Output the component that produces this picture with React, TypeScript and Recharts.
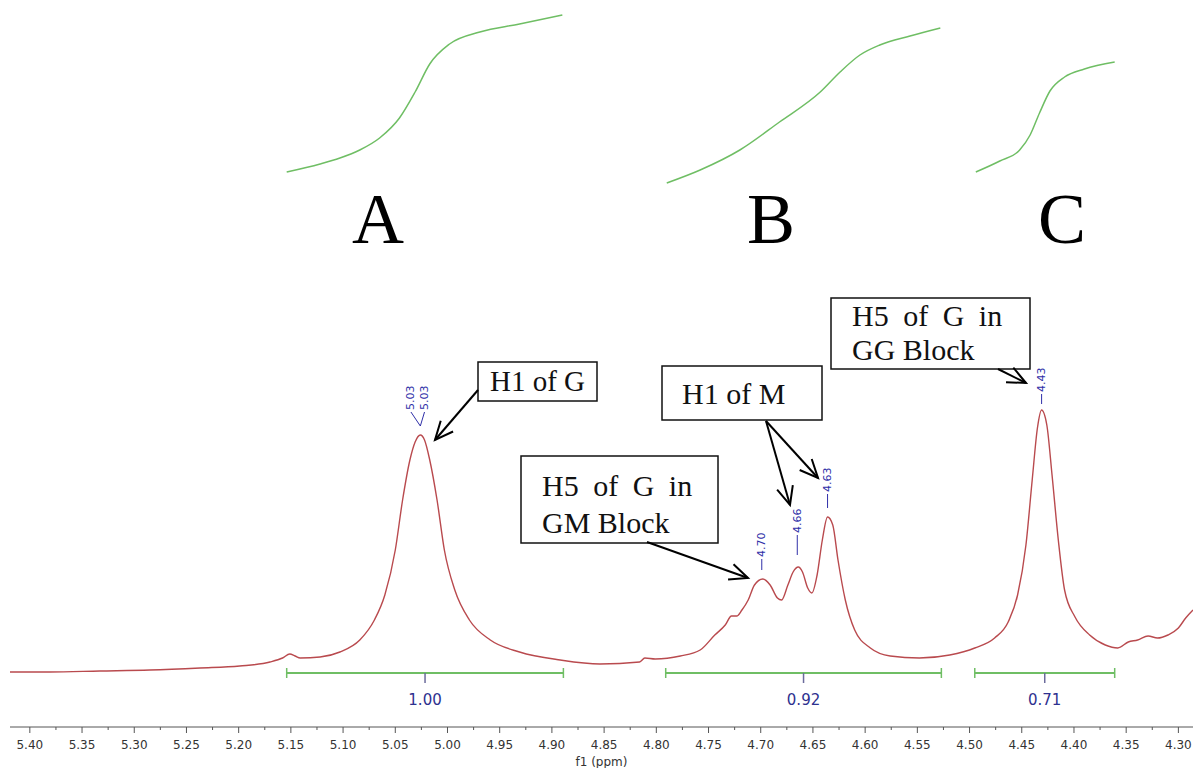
import React from 'react'
import {
  ComposedChart,
  Line,
  Scatter,
  XAxis,
  YAxis,
  ReferenceLine,
} from 'recharts'

// 1H NMR spectrum, f1 in ppm, intensity in arbitrary units (baseline = 0)
const SPEC_PPM = [
  5.419, 5.381, 5.333, 5.285, 5.237, 5.199, 5.170, 5.158, 5.151, 5.146, 5.141, 5.122,
  5.103, 5.084, 5.070, 5.060, 5.050, 5.043, 5.036, 5.031, 5.026, 5.022, 5.017, 5.010,
  5.003, 4.993, 4.979, 4.959, 4.931, 4.892, 4.854, 4.816, 4.811, 4.801, 4.777, 4.758,
  4.744, 4.734, 4.728, 4.723, 4.718, 4.712, 4.706, 4.698, 4.691, 4.684, 4.680, 4.674,
  4.669, 4.664, 4.660, 4.655, 4.651, 4.646, 4.641, 4.636, 4.631, 4.626, 4.619, 4.610,
  4.595, 4.576, 4.548, 4.519, 4.495, 4.476, 4.463, 4.454, 4.446, 4.440, 4.435, 4.431,
  4.426, 4.421, 4.415, 4.409, 4.399, 4.385, 4.370, 4.358, 4.348, 4.339, 4.329, 4.320,
  4.310, 4.300, 4.293, 4.286,
]
const SPEC_INT = [
  0, 0, 1, 2, 4, 6, 10, 14, 18, 16, 14, 15,
  20, 32, 52, 77, 122, 172, 212, 230, 237, 232, 212, 172,
  122, 82, 52, 32, 20, 12, 8, 10, 14, 13, 16, 22,
  37, 47, 56, 56, 62, 72, 87, 93, 87, 74, 72, 87,
  100, 105, 100, 84, 79, 97, 132, 155, 147, 112, 72, 42,
  24, 16, 14, 17, 24, 34, 50, 77, 127, 192, 244, 262,
  247, 197, 132, 82, 55, 37, 27, 24, 30, 32, 36, 34,
  37, 44, 54, 62,
]

// integral curves (drawn above the spectrum)
const INT_A_PPM = [5.154, 5.122, 5.103, 5.084, 5.065, 5.046, 5.031, 5.017, 4.998, 4.969, 4.931, 4.890]
const INT_A_VAL = [500, 508, 514, 522, 534, 554, 580, 608, 628, 640, 648, 657]
const INT_B_PPM = [4.790, 4.758, 4.720, 4.682, 4.643, 4.624, 4.605, 4.586, 4.557, 4.528]
const INT_B_VAL = [489, 502, 522, 550, 580, 600, 617, 627, 636, 644]
const INT_C_PPM = [4.494, 4.471, 4.452, 4.442, 4.433, 4.423, 4.409, 4.390, 4.361]
const INT_C_VAL = [500, 511, 522, 537, 559, 581, 595, 603, 610]

// integration ranges and values
const RANGE_FROM = [5.154, 4.791, 4.495]
const RANGE_TO = [4.889, 4.527, 4.361]
const RANGE_VALUES = ['1.00', '0.92', '0.71']

// peak picking labels
const PEAK_LABELS = ['5.03', '5.03', '4.70', '4.66', '4.63', '4.43']
const PEAK_LABEL_PPM = [5.035, 5.022, 4.699, 4.665, 4.636, 4.431]
const PEAK_LABEL_BASE = [262, 262, 115, 139, 180, 280]
const PEAK_TIP_PPM = [5.026, 5.026, 4.699, 4.665, 4.636, 4.431]
const PEAK_TIP = [246, 246, 102, 117, 164, 268]

const MAJOR_TICKS = [
  5.4, 5.35, 5.3, 5.25, 5.2, 5.15, 5.1, 5.05, 5.0, 4.95, 4.9, 4.85,
  4.8, 4.75, 4.7, 4.65, 4.6, 4.55, 4.5, 4.45, 4.4, 4.35, 4.3,
]

const X_DOMAIN: [number, number] = [4.286, 5.419]
const Y_DOMAIN: [number, number] = [-55, 672]

const spectrum = SPEC_PPM.map((ppm, i) => ({ ppm, h: SPEC_INT[i] }))
const toSeries = (xs: number[], ys: number[]) => xs.map((ppm, i) => ({ ppm, h: ys[i] }))
const integrals = [
  toSeries(INT_A_PPM, INT_A_VAL),
  toSeries(INT_B_PPM, INT_B_VAL),
  toSeries(INT_C_PPM, INT_C_VAL),
]
const rangeLabels = RANGE_VALUES.map((label, i) => ({
  ppm: (RANGE_FROM[i] + RANGE_TO[i]) / 2,
  h: -28,
  label,
}))
const peakLabels = PEAK_LABELS.map((label, i) => ({
  ppm: PEAK_LABEL_PPM[i],
  h: PEAK_LABEL_BASE[i],
  label,
}))

const minorTicks = MAJOR_TICKS.slice(0, -1).map((v, i) => (v + MAJOR_TICKS[i + 1]) / 2)
const allTicks = [...MAJOR_TICKS, ...minorTicks].filter((v) => v >= X_DOMAIN[0] && v <= X_DOMAIN[1])
const majorSet = new Set(MAJOR_TICKS.map((v) => v.toFixed(3)))

const GREEN = '#6fbe64'
const BLUE = '#2f2fa8'
const SERIF = '"Liberation Serif", "Times New Roman", serif'
const SANS = '"DejaVu Sans", Verdana, sans-serif'

function AxisTick(props: any) {
  const { x, y, payload } = props
  const major = majorSet.has(Number(payload.value).toFixed(3))
  return (
    <g>
      <line x1={x} x2={x} y1={y} y2={y + (major ? 6 : 3)} stroke="#555" strokeWidth={1} />
      {major && (
        <text x={x} y={y + 22} textAnchor="middle" fontSize={12} fontFamily={SANS} fill="#333">
          {Number(payload.value).toFixed(2)}
        </text>
      )}
    </g>
  )
}

function PeakLabel(props: any) {
  const { cx, cy, payload } = props
  return (
    <text
      transform={`translate(${cx},${cy}) rotate(-90)`}
      textAnchor="start"
      dominantBaseline="central"
      fontSize={11}
      fontFamily={SANS}
      fill={BLUE}
    >
      {payload.label}
    </text>
  )
}

function RangeLabel(props: any) {
  const { cx, cy, payload } = props
  return (
    <text x={cx} y={cy} textAnchor="middle" dominantBaseline="central" fontSize={15} fontFamily={SANS} fill="#2e318f">
      {payload.label}
    </text>
  )
}

function Arrow({ x1, y1, x2, y2 }: { x1: number; y1: number; x2: number; y2: number }) {
  const a = Math.atan2(y2 - y1, x2 - x1)
  const len = 20
  const w = 0.42
  const p1 = `${x2 - len * Math.cos(a - w)},${y2 - len * Math.sin(a - w)}`
  const p2 = `${x2 - len * Math.cos(a + w)},${y2 - len * Math.sin(a + w)}`
  return (
    <g stroke="#000" strokeWidth={2} fill="none">
      <line x1={x1} y1={y1} x2={x2} y2={y2} />
      <polyline points={`${p1} ${x2},${y2} ${p2}`} />
    </g>
  )
}

function Annotations() {
  const box = { fill: '#fff', stroke: '#111', strokeWidth: 1.5 }
  const txt = { fontFamily: SERIF, fontSize: 30, fill: '#111' }
  return (
    <svg
      width={1193}
      height={768}
      style={{ position: 'absolute', left: 0, top: 0, pointerEvents: 'none' }}
    >
      <text x={378} y={243} textAnchor="middle" fontFamily={SERIF} fontSize={72} fill="#000">A</text>
      <text x={771} y={243} textAnchor="middle" fontFamily={SERIF} fontSize={72} fill="#000">B</text>
      <text x={1062} y={243} textAnchor="middle" fontFamily={SERIF} fontSize={72} fill="#000">C</text>

      <rect x={478} y={362} width={119} height={39} {...box} />
      <text x={490} y={391} {...txt} fontSize={29}>H1 of G</text>
      <Arrow x1={478} y1={390} x2={435} y2={440} />

      <rect x={662} y={366} width={160} height={54} {...box} />
      <text x={682} y={404} {...txt}>H1 of M</text>
      <Arrow x1={766} y1={421} x2={790} y2={505} />
      <Arrow x1={766} y1={421} x2={818} y2={478} />

      <rect x={521} y={456} width={197} height={87} {...box} />
      <text x={542} y={496} {...txt} wordSpacing={7}>H5 of G in</text>
      <text x={542} y={533} {...txt}>GM Block</text>
      <Arrow x1={647} y1={542} x2={748} y2={578} />

      <rect x={831} y={298} width={199} height={71} {...box} />
      <text x={852} y={326} {...txt} wordSpacing={7}>H5 of G in</text>
      <text x={852} y={360} {...txt}>GG Block</text>
      <Arrow x1={998} y1={369} x2={1026} y2={383} />
    </svg>
  )
}

export default function App() {
  return (
    <div style={{ position: 'absolute', left: 0, top: 0, width: 1193, height: 768, background: '#fff' }}>
      <ComposedChart width={1193} height={768} margin={{ top: 0, right: 0, bottom: 0, left: 10 }}>
        <XAxis
          type="number"
          dataKey="ppm"
          domain={X_DOMAIN}
          reversed
          allowDataOverflow
          ticks={allTicks}
          interval={0}
          tick={<AxisTick />}
          tickLine={false}
          tickSize={0}
          tickMargin={0}
          height={41}
          axisLine={{ stroke: '#555', strokeWidth: 1 }}
          label={{ value: 'f1 (ppm)', position: 'insideBottom', offset: 2, fontSize: 12, fontFamily: SANS, fill: '#333' }}
        />
        <YAxis type="number" dataKey="h" domain={Y_DOMAIN} hide allowDataOverflow />

        {integrals.map((d, i) => (
          <Line
            key={`int-${i}`}
            data={d}
            dataKey="h"
            type="monotone"
            stroke={GREEN}
            strokeWidth={1.5}
            dot={false}
            isAnimationActive={false}
          />
        ))}

        {RANGE_FROM.map((from, i) => (
          <ReferenceLine
            key={`rng-${i}`}
            segment={[{ x: from, y: -1 }, { x: RANGE_TO[i], y: -1 }]}
            stroke={GREEN}
            strokeWidth={2}
          />
        ))}
        {[...RANGE_FROM, ...RANGE_TO].map((p, i) => (
          <ReferenceLine
            key={`cap-${i}`}
            segment={[{ x: p, y: 4 }, { x: p, y: -6 }]}
            stroke={GREEN}
            strokeWidth={1.5}
          />
        ))}
        {rangeLabels.map((r, i) => (
          <ReferenceLine
            key={`mid-${i}`}
            segment={[{ x: r.ppm, y: -1 }, { x: r.ppm, y: -11 }]}
            stroke="#6b6b9c"
            strokeWidth={1.5}
          />
        ))}

        {PEAK_LABEL_PPM.map((p, i) => (
          <ReferenceLine
            key={`pk-${i}`}
            segment={[{ x: p, y: PEAK_LABEL_BASE[i] - 2 }, { x: PEAK_TIP_PPM[i], y: PEAK_TIP[i] }]}
            stroke={BLUE}
            strokeWidth={1}
          />
        ))}

        <Line
          data={spectrum}
          dataKey="h"
          type="monotone"
          stroke="#b94a4e"
          strokeWidth={1.4}
          dot={false}
          isAnimationActive={false}
        />

        <Scatter data={peakLabels} dataKey="h" shape={(p: any) => <PeakLabel {...p} />} isAnimationActive={false} />
        <Scatter data={rangeLabels} dataKey="h" shape={(p: any) => <RangeLabel {...p} />} isAnimationActive={false} />
      </ComposedChart>
      <Annotations />
    </div>
  )
}
